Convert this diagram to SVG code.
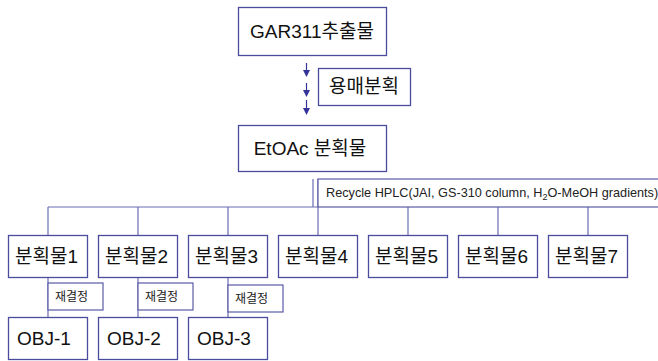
<svg xmlns="http://www.w3.org/2000/svg" width="658" height="361" viewBox="0 0 658 361">
<defs>
<style>
.box{fill:#ffffff;stroke:#4c4c9e;stroke-width:1.3}
.lbl{fill:#ffffff;stroke:#5a5aa8;stroke-width:1.2}
.ln{fill:none;stroke:#6c6cb6;stroke-width:1.2}
.t{font-family:"Liberation Sans","Noto Sans CJK KR",sans-serif;font-size:19px;fill:#111111}
.s{font-family:"Liberation Sans","Noto Sans CJK KR",sans-serif;font-size:12px;fill:#222222}
.h{font-size:12.7px}
.sub{font-size:9px}
.ah{fill:#333399}
.ar{stroke:#333399;stroke-width:1.2}
</style>
</defs>
<rect width="658" height="361" fill="#ffffff"/>
<g id="connectors">
<line class="ar" x1="306.5" y1="63" x2="306.5" y2="71"/>
<polygon class="ah" points="303,70 310,70 306.5,77"/>
<line class="ar" x1="306.5" y1="83" x2="306.5" y2="91"/>
<polygon class="ah" points="303,90 310,90 306.5,97"/>
<line class="ar" x1="306.5" y1="100" x2="306.5" y2="109"/>
<polygon class="ah" points="303,108 310,108 306.5,115"/>
<line class="ln" x1="313" y1="179" x2="313" y2="207"/>
<line class="ln" x1="48" y1="207" x2="318" y2="207"/>
<line class="ln" x1="318" y1="179" x2="318" y2="235"/>
<line class="ln" x1="48" y1="207" x2="48" y2="235"/>
<line class="ln" x1="138" y1="207" x2="138" y2="235"/>
<line class="ln" x1="228" y1="207" x2="228" y2="235"/>
<line class="ln" x1="408" y1="207" x2="408" y2="235"/>
<line class="ln" x1="498" y1="207" x2="498" y2="235"/>
<line class="ln" x1="588" y1="207" x2="588" y2="235"/>
<line class="ln" x1="48" y1="277" x2="48" y2="317"/>
<line class="ln" x1="138" y1="277" x2="138" y2="317"/>
<line class="ln" x1="228" y1="277" x2="228" y2="317"/>
</g>
<g id="lbl-hplc">
<rect class="lbl" x="318" y="179" width="345" height="28"/>
<text class="s h" x="326" y="197">Recycle HPLC(JAI, GS-310 column, H<tspan class="sub" dy="3">2</tspan><tspan dy="-3">O-MeOH gradients)</tspan></text>
</g>
<g id="n-gar">
<rect class="box" x="238.5" y="7.5" width="148" height="48"/>
<text class="t" x="312" y="38" text-anchor="middle">GAR311추출물</text>
</g>
<g id="lbl-solvent">
<rect class="box" x="318.5" y="68.5" width="92" height="37"/>
<text class="t" x="364" y="93" text-anchor="middle">용매분획</text>
</g>
<g id="n-etoac">
<rect class="box" x="238.5" y="125.5" width="148" height="46"/>
<text class="t" x="310" y="155" text-anchor="middle">EtOAc 분획물</text>
</g>
<g id="n-f1"><rect class="box" x="8.5" y="235.5" width="79" height="42"/><text class="t" x="15" y="263">분획물1</text></g>
<g id="n-f2"><rect class="box" x="98.5" y="235.5" width="79" height="42"/><text class="t" x="105" y="263">분획물2</text></g>
<g id="n-f3"><rect class="box" x="188.5" y="235.5" width="79" height="42"/><text class="t" x="195" y="263">분획물3</text></g>
<g id="n-f4"><rect class="box" x="278.5" y="235.5" width="79" height="42"/><text class="t" x="285" y="263">분획물4</text></g>
<g id="n-f5"><rect class="box" x="368.5" y="235.5" width="79" height="42"/><text class="t" x="375" y="263">분획물5</text></g>
<g id="n-f6"><rect class="box" x="458.5" y="235.5" width="79" height="42"/><text class="t" x="465" y="263">분획물6</text></g>
<g id="n-f7"><rect class="box" x="548.5" y="235.5" width="79" height="42"/><text class="t" x="555" y="263">분획물7</text></g>
<g id="lbl-r1"><rect class="lbl" x="48" y="283" width="55" height="27"/><text class="s" x="55" y="301">재결정</text></g>
<g id="lbl-r2"><rect class="lbl" x="138" y="283" width="55" height="27"/><text class="s" x="145" y="301">재결정</text></g>
<g id="lbl-r3"><rect class="lbl" x="228" y="285" width="55" height="27"/><text class="s" x="235" y="303">재결정</text></g>
<g id="n-obj1"><rect class="box" x="8.5" y="317.5" width="79" height="42"/><text class="t" x="17" y="345">OBJ-1</text></g>
<g id="n-obj2"><rect class="box" x="98.5" y="317.5" width="79" height="42"/><text class="t" x="107" y="345">OBJ-2</text></g>
<g id="n-obj3"><rect class="box" x="188.5" y="317.5" width="79" height="42"/><text class="t" x="197" y="345">OBJ-3</text></g>
</svg>
